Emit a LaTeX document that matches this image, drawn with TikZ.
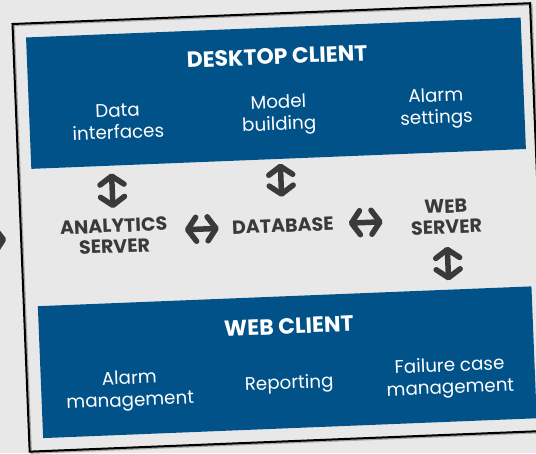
\documentclass[tikz,border=0pt]{standalone}
\usepackage{fontspec}
\setmainfont{Poppins}
\usetikzlibrary{arrows.meta}
\definecolor{bg}{HTML}{E8E8E8}
\definecolor{navy}{HTML}{02528A}
\definecolor{ink}{HTML}{3A3A3A}
\tikzset{
  panel/.style={fill=navy, draw=none, inner sep=0pt},
  paneltitle/.style={text=white, inner sep=0pt, font=\fontsize{22}{24}\selectfont\bfseries},
  item/.style={text=white, align=center, inner sep=0pt, font=\fontsize{18.3}{22}\selectfont},
  srv/.style={text=ink, align=center, inner sep=0pt, font=\fontsize{19}{20.5}\selectfont\bfseries},
  barb/.tip={Straight Barb[round,length=8.5pt,width=24pt]},
  dbl/.style={draw=ink, line width=5.5pt, line cap=round, barb-barb},
  single/.style={draw=ink, line width=5.5pt, line cap=round, -barb},
}
\begin{document}
\begin{tikzpicture}[x=1pt,y=-1pt]
\useasboundingbox (0,0) rectangle (536,453);
\fill[bg] (0,0) rectangle (536,453);
\begin{scope}[shift={(12.5,24)}, rotate=2.3, transform shape]
  % outer frame with soft shadow
  \draw[gray!70, line width=1.5pt] (1.5,1.5) rectangle (519.5,429.5);
  \node[draw=black, line width=2pt, minimum width=518pt, minimum height=428pt, inner sep=0pt] (frame) at (259,214) {};
  % panels
  \node[panel, minimum width=495pt, minimum height=131.5pt] (desktop) at (260.5,79.75) {};
  \node[panel, minimum width=494pt, minimum height=132pt] (webclient) at (261,349) {};
  % titles
  \node[paneltitle] (desktoptitle) at (263,43) {DESKTOP CLIENT};
  \node[paneltitle] (webclienttitle) at (264,313) {WEB CLIENT};
  % desktop items
  \node[item] (datai) at (101.5,101.5) {Data\\interfaces};
  \node[item] (model) at (262.5,101.5) {Model\\building};
  \node[item] (alarms) at (420,101.5) {Alarm\\settings};
  % web client items
  \node[item] (alarmm) at (102.5,371.3) {Alarm\\management};
  \node[item] (report) at (262,371.3) {Reporting};
  \node[item] (failure) at (423,371.3) {Failure case\\management};
  % servers
  \node[srv] (analytics) at (93,216) {ANALYTICS\\SERVER};
  \node[srv] (database) at (262,212.5) {DATABASE};
  \node[srv] (webserver) at (425.5,210) {WEB\\SERVER};
  % connectors
  \draw[dbl, shorten <=7.5pt, shorten >=28pt] (desktop.south -| analytics.center) -- (analytics.center);
  \draw[dbl, shorten <=4.5pt, shorten >=29pt] (desktop.south -| database.center) -- (database.center);
  \draw[dbl, shorten <=71pt, shorten >=64pt] (analytics.center |- database.center) -- (database.center);
  \draw[dbl, shorten <=66pt, shorten >=63.5pt] (database.center) -- (webserver.center |- database.center);
  \draw[dbl, shorten <=30pt, shorten >=9pt] (webserver.center) -- (webserver.center |- webclient.north);
  % incoming arrow from outside (cut off)
  \coordinate (ext) at (-80,215);
  \draw[single, shorten >=14pt] (ext) -- (frame.west |- ext);
\end{scope}
\end{tikzpicture}
\end{document}
